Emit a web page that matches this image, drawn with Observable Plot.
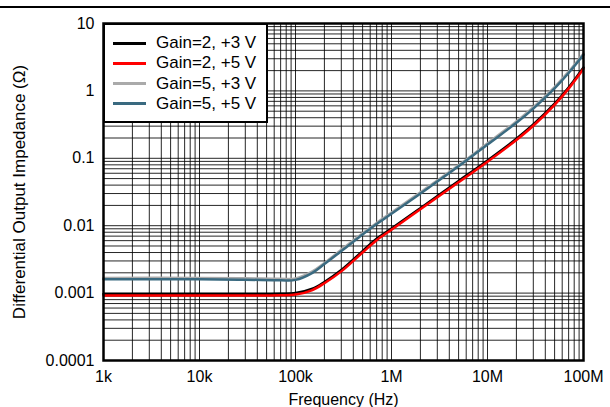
<!DOCTYPE html>
<html>
<head>
<meta charset="utf-8">
<script src="https://cdn.jsdelivr.net/npm/d3@7"></script>
<script src="https://cdn.jsdelivr.net/npm/@observablehq/plot@0.6"></script>
<style>
  body { margin: 0; background: #fff; font-family: "Liberation Sans", Arial, sans-serif; }
  #wrap { position: relative; width: 610px; height: 407px; overflow: hidden; }
  #topline { position: absolute; left: 0; top: 6px; width: 610px; height: 1.5px; background: #000; }
  #legend { position: absolute; left: 103px; top: 23px; width: 161px; height: 96px; background: #fff;
            border: 2px solid #000; box-sizing: content-box; font-size: 17px; }
  .row { position: absolute; left: 0; height: 20px; display: flex; align-items: center; }
  .sw { display: inline-block; width: 33px; height: 3px; margin-left: 8px; margin-right: 10px; }
</style>
</head>
<body>
<div id="wrap">
  <div id="chart"></div>
  <div id="topline"></div>
  <div id="legend"></div>
</div>
<script>
// Frequencies (Hz)
const freq = [1e3, 1e4, 3e4, 7e4, 1e5, 1.5e5, 2e5, 3e5, 5e5, 7e5, 1e6, 2e6, 5e6, 1e7, 2e7, 3e7, 5e7, 7e7, 1e8];
// Differential output impedance (ohm)
const gain2_3V = [0.00097, 0.00097, 0.00097, 0.00098, 0.00100, 0.00116, 0.00146, 0.0022, 0.0042, 0.0064, 0.0091, 0.0182, 0.046, 0.093, 0.195, 0.317, 0.647, 1.12, 2.22];
const gain2_5V = [0.00092, 0.00092, 0.00092, 0.00093, 0.00095, 0.00111, 0.0014, 0.0021, 0.0040, 0.0061, 0.0087, 0.0175, 0.044, 0.089, 0.187, 0.304, 0.622, 1.08, 2.13];
const gain5_3V = [0.00168, 0.00168, 0.00166, 0.00163, 0.00165, 0.0021, 0.0028, 0.0044, 0.0077, 0.0110, 0.0157, 0.0313, 0.079, 0.167, 0.352, 0.573, 1.14, 1.93, 3.6];
const gain5_5V = [0.00160, 0.00160, 0.00158, 0.00155, 0.00157, 0.0020, 0.0027, 0.0042, 0.0074, 0.0106, 0.0150, 0.030, 0.076, 0.160, 0.336, 0.547, 1.09, 1.84, 3.43];

const seriesNames = ["Gain=2, +3 V", "Gain=2, +5 V", "Gain=5, +3 V", "Gain=5, +5 V"];
const seriesColors = ["#000000", "#ff0000", "#aaaaaa", "#3a6a80"];
const seriesValues = [gain2_3V, gain2_5V, gain5_3V, gain5_5V];

const xTicks = [1e3, 1e4, 1e5, 1e6, 1e7, 1e8];
const xTickLabels = ["1k", "10k", "100k", "1M", "10M", "100M"];
const yTicks = [1e-4, 1e-3, 1e-2, 1e-1, 1, 10];
const yTickLabels = ["0.0001", "0.001", "0.01", "0.1", "1", "10"];

const data = seriesNames.flatMap((name, i) =>
  freq.map((f, j) => ({ series: name, f, z: seriesValues[i][j] })));

// log grid positions (1..9 per decade)
const gridX = d3.range(3, 8).flatMap(k => d3.range(1, 10).map(m => m * 10 ** k)).concat([1e8]);
const gridY = d3.range(-4, 1).flatMap(k => d3.range(1, 10).map(m => m * 10 ** k)).concat([10]);

const chart = Plot.plot({
  width: 610,
  height: 407,
  marginLeft: 103,
  marginRight: 27,
  marginTop: 23,
  marginBottom: 47,
  style: { fontFamily: "'Liberation Sans', Arial, sans-serif", fontSize: "16px", color: "#000", background: "#fff" },
  x: { type: "log", domain: [1e3, 1e8], ticks: xTicks, tickFormat: d => xTickLabels[xTicks.indexOf(d)],
       tickSize: 0, tickPadding: 10, label: "Frequency (Hz)", labelAnchor: "center", labelOffset: 44, labelArrow: "none" },
  y: { type: "log", domain: [1e-4, 10], ticks: yTicks, tickFormat: d => yTickLabels[yTicks.indexOf(d)],
       tickSize: 0, tickPadding: 9, label: "Differential Output Impedance (Ω)", labelAnchor: "center", labelOffset: 91, labelArrow: "none" },
  color: { domain: seriesNames, range: seriesColors },
  marks: [
    Plot.ruleX(gridX, { stroke: "#000", strokeWidth: 1, strokeOpacity: 0.85 }),
    Plot.ruleY(gridY, { stroke: "#000", strokeWidth: 1, strokeOpacity: 0.85 }),
    Plot.line(data, { x: "f", y: "z", z: "series", stroke: "series", strokeWidth: 2.5, curve: "catmull-rom" }),
    Plot.frame({ stroke: "#000", strokeWidth: 2.5 })
  ]
});
// axis title sizes
chart.querySelectorAll("g[aria-label='y-axis label'] text")
  .forEach(t => t.setAttribute("font-size", "17px"));
chart.querySelectorAll("g[aria-label='x-axis label'] text")
  .forEach(t => t.setAttribute("font-size", "16px"));
document.getElementById("chart").appendChild(chart);

// Legend
const lg = document.getElementById("legend");
seriesNames.forEach((name, i) => {
  const row = document.createElement("div");
  row.className = "row";
  row.style.top = (8 + i * 20.3) + "px";
  const sw = document.createElement("span");
  sw.className = "sw";
  sw.style.background = seriesColors[i];
  row.appendChild(sw);
  const tx = document.createElement("span");
  tx.textContent = name;
  row.appendChild(tx);
  lg.appendChild(row);
});
</script>
</body>
</html>
